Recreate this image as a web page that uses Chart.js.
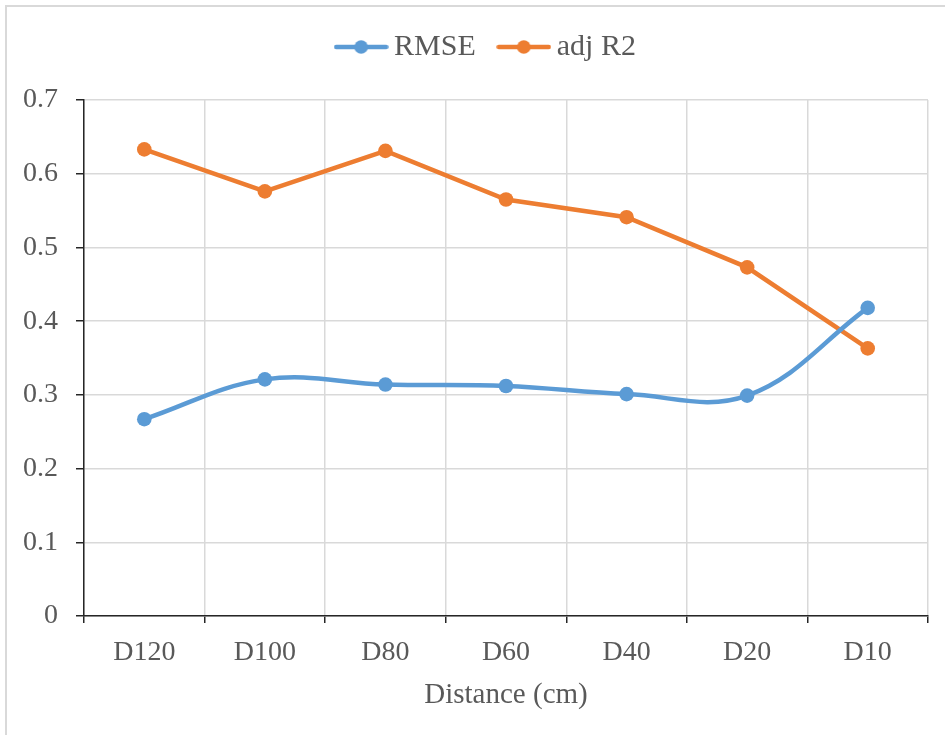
<!DOCTYPE html>
<html>
<head>
<meta charset="utf-8">
<script src="https://cdn.jsdelivr.net/npm/chart.js@4.4.1/dist/chart.umd.min.js"></script>
<style>
  html, body { margin: 0; padding: 0; background: #ffffff; }
  #wrap { position: relative; width: 945px; height: 735px; }
  canvas { display: block; }
</style>
</head>
<body>
<div id="wrap"><canvas id="c" width="945" height="735"></canvas></div>
<script>
// ---- data ----
const categories = ['D120', 'D100', 'D80', 'D60', 'D40', 'D20', 'D10'];
const rmseValues = [0.267, 0.321, 0.314, 0.312, 0.301, 0.299, 0.418];
const adjR2Values = [0.633, 0.576, 0.631, 0.565, 0.541, 0.473, 0.363];
const yTickLabels = ['0', '0.1', '0.2', '0.3', '0.4', '0.5', '0.6', '0.7'];
const seriesNames = ['RMSE', 'adj R2'];
const xAxisTitle = 'Distance (cm)';

const BLUE = '#5B9BD5';
const ORANGE = '#ED7D31';
const FONT = '"Liberation Serif", "Times New Roman", serif';
const TEXT = '#595959';

function legendIcon(color) {
  const cv = document.createElement('canvas');
  cv.width = 55; cv.height = 16;
  const g = cv.getContext('2d');
  g.strokeStyle = color; g.lineWidth = 4.5; g.lineCap = 'round';
  g.beginPath(); g.moveTo(2.5, 8); g.lineTo(52.5, 8); g.stroke();
  g.fillStyle = color;
  g.beginPath(); g.arc(27.5, 8, 6.8, 0, Math.PI * 2); g.fill();
  return cv;
}

const frame = {
  id: 'frame',
  beforeDraw(chart) {
    // shift the legend block so it centres like the original
    if (chart.legend) { chart.legend.left = 51; }
    const c = chart.ctx;
    c.save();
    c.strokeStyle = '#d9d9d9';
    c.lineWidth = 2;
    c.beginPath();
    c.moveTo(6, 740); c.lineTo(6, 6); c.lineTo(950, 6);
    c.stroke();
    c.restore();
  }
};

new Chart(document.getElementById('c'), {
  type: 'line',
  data: {
    labels: categories,
    datasets: [
      {
        label: seriesNames[0], data: rmseValues,
        borderColor: BLUE, backgroundColor: BLUE,
        borderWidth: 4.5, pointRadius: 7.3, pointHoverRadius: 7.3,
        pointBorderWidth: 0, tension: 0.38, cubicInterpolationMode: 'default'
      },
      {
        label: seriesNames[1], data: adjR2Values,
        borderColor: ORANGE, backgroundColor: ORANGE,
        borderWidth: 4.5, pointRadius: 7.3, pointHoverRadius: 7.3,
        pointBorderWidth: 0, tension: 0
      }
    ]
  },
  options: {
    responsive: false,
    animation: false,
    devicePixelRatio: 1,
    layout: { padding: { top: 2, right: 17, bottom: 0, left: 0 } },
    plugins: {
      tooltip: { enabled: false },
      title: { display: false },
      subtitle: { display: true, text: '', weight: 500, padding: { top: 0, bottom: 27 }, font: { size: 1, lineHeight: 1 } },
      legend: {
        display: true, position: 'top', align: 'center',
        labels: {
          usePointStyle: true, pointStyleWidth: 36, padding: 30,
          color: TEXT, font: { family: FONT, size: 30 },
          generateLabels(chart) {
            return chart.data.datasets.map((ds, i) => ({
              text: ds.label, fillStyle: ds.borderColor, strokeStyle: ds.borderColor,
              lineWidth: 0, pointStyle: legendIcon(ds.borderColor), hidden: false,
              datasetIndex: i, fontColor: TEXT
            }));
          }
        }
      }
    },
    scales: {
      x: {
        type: 'category', offset: true,
        afterFit(scale) { scale.height = 119; },
        grid: { offset: true, color: '#d9d9d9', lineWidth: 1.5, drawTicks: true, tickLength: 7, tickColor: '#262626', tickWidth: 1.5 },
        border: { display: true, color: '#262626', width: 1.5 },
        ticks: { color: TEXT, font: { family: FONT, size: 28 }, padding: 13, maxRotation: 0, autoSkip: false },
        title: { display: true, text: xAxisTitle, color: TEXT, font: { family: FONT, size: 29 }, padding: { top: 0, bottom: 22 } }
      },
      y: {
        min: 0, max: 0.7,
        afterFit(scale) { scale.width = 84; },
        grid: { color: '#d9d9d9', lineWidth: 1.5, drawTicks: true, tickLength: 8, tickColor: '#262626', tickWidth: 1.5 },
        border: { display: true, color: '#262626', width: 1.5 },
        ticks: {
          stepSize: 0.1, padding: 18, color: TEXT, font: { family: FONT, size: 28 },
          callback(v, i) { return yTickLabels[i]; }
        }
      }
    }
  },
  plugins: [frame]
});
</script>
</body>
</html>
